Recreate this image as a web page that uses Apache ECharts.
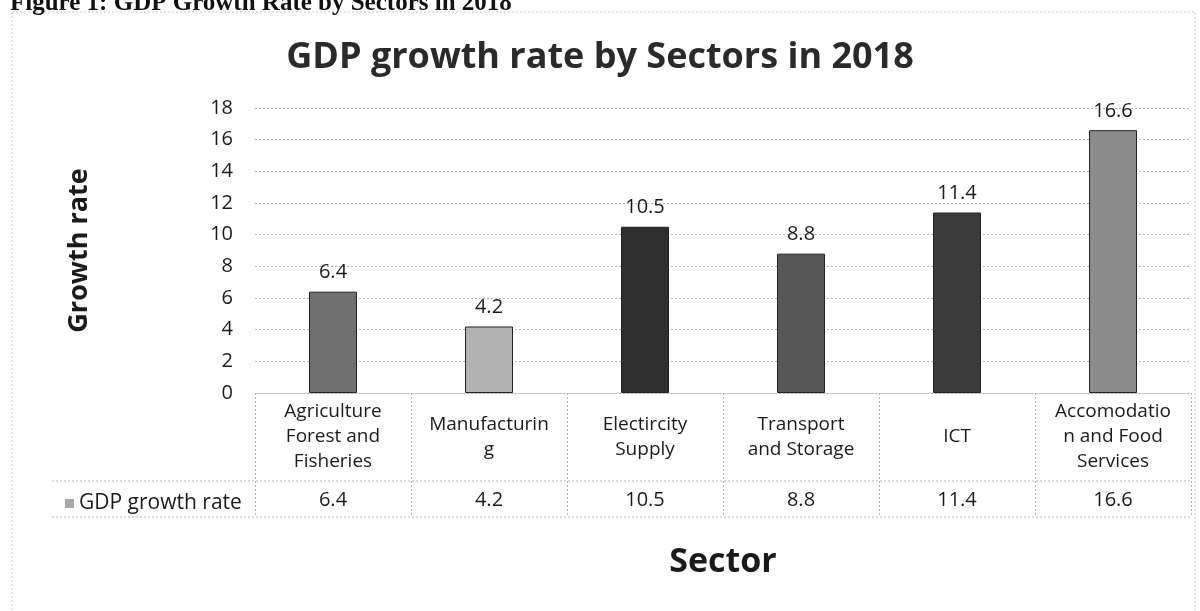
<!DOCTYPE html>
<html>
<head>
<meta charset="utf-8">
<script src="https://cdn.jsdelivr.net/npm/echarts@6/dist/echarts.min.js"></script>
<style>html,body{margin:0;padding:0;background:#fff}#c{width:1200px;height:611px}</style>
</head>
<body>
<div id="c"></div>
<script>
const categories = ['Agriculture\nForest and\nFisheries', 'Manufacturin\ng', 'Electircity\nSupply', 'Transport\nand Storage', 'ICT', 'Accomodatio\nn and Food\nServices'];
const growthRate = [6.4, 4.2, 10.5, 8.8, 11.4, 16.6];
const yTicks = [0, 2, 4, 6, 8, 10, 12, 14, 16, 18];
const seriesName = 'GDP growth rate';
const barColors = ['#6f6f6f', '#b2b2b2', '#2f2f2f', '#575757', '#3b3b3b', '#8d8d8d'];

const FONT = '"Open Sans", sans-serif';
const dotted = { color: '#b5b5b5', type: [2, 2], width: 1 };
const chart = echarts.init(document.getElementById('c'), null, { renderer: 'canvas' });

chart.setOption({
  backgroundColor: '#fff',
  animation: false,
  title: {
    text: 'GDP growth rate by Sectors in 2018',
    left: 'center', top: 35,
    textStyle: { fontFamily: FONT, fontSize: 36, fontWeight: 'bold', color: '#2a2a2a' }
  },
  legend: {
    data: [{ name: seriesName, icon: 'rect', itemStyle: { color: '#a8a8a8' } }],
    left: 60, top: 488, itemWidth: 9, itemHeight: 9, itemGap: 5,
    textStyle: { fontFamily: FONT, fontSize: 21, color: '#1a1a1a' },
    selectedMode: false
  },
  grid: { left: 255, right: 9, top: 108, bottom: 218, containLabel: false },
  xAxis: [
    {
      type: 'category', data: categories,
      axisLine: { show: true, lineStyle: dotted },
      axisTick: { show: true, length: 124, lineStyle: dotted },
      axisLabel: { fontFamily: FONT, fontSize: 19, lineHeight: 25, color: '#1a1a1a', margin: 44, verticalAlign: 'middle', interval: 0 },
      name: 'Sector', nameLocation: 'middle', nameGap: 152,
      nameTextStyle: { fontFamily: FONT, fontSize: 34, fontWeight: 'bold', color: '#1a1a1a' }
    },
    {
      type: 'category', data: growthRate.map(v => v.toFixed(1)), position: 'bottom', offset: 107,
      axisLine: { show: false }, axisTick: { show: false },
      axisLabel: { fontFamily: FONT, fontSize: 20, color: '#1a1a1a', margin: 0, verticalAlign: 'middle', interval: 0 }
    }
  ],
  yAxis: {
    type: 'value', min: yTicks[0], max: yTicks[yTicks.length - 1], interval: yTicks[1] - yTicks[0],
    axisLine: { show: false }, axisTick: { show: false },
    axisLabel: { fontFamily: FONT, fontSize: 20, color: '#1a1a1a', margin: 22 },
    splitLine: { show: true, lineStyle: dotted },
    name: 'Growth rate', nameLocation: 'middle', nameGap: 162, nameRotate: 90,
    nameTextStyle: { fontFamily: FONT, fontSize: 27, fontWeight: 'bold', color: '#1a1a1a' }
  },
  series: [{
    name: seriesName, type: 'bar', xAxisIndex: 0, barWidth: 48,
    data: growthRate.map((v, i) => ({ value: v, itemStyle: { color: barColors[i], borderColor: '#222', borderWidth: 1 } })),
    label: { show: true, position: 'top', distance: 9, fontFamily: FONT, fontSize: 20, color: '#1a1a1a' }
  }],
  graphic: [
    { type: 'text', left: 10, top: -9, z: 10,
      style: { text: 'Figure 1: GDP Growth Rate by Sectors in 2018', font: 'bold 25px "Liberation Serif", serif', fill: '#111' } },
    { type: 'rect', shape: { x: 12, y: 12, width: 1183, height: 640 },
      style: { fill: 'none', stroke: '#c8c8c8', lineDash: [2, 2], lineWidth: 1 } },
    { type: 'line', shape: { x1: 52, y1: 481, x2: 1191, y2: 481 }, style: { stroke: '#b5b5b5', lineDash: [2, 2], lineWidth: 1 } },
    { type: 'line', shape: { x1: 52, y1: 517, x2: 1191, y2: 517 }, style: { stroke: '#b5b5b5', lineDash: [2, 2], lineWidth: 1 } }
  ]
});
</script>
</body>
</html>
